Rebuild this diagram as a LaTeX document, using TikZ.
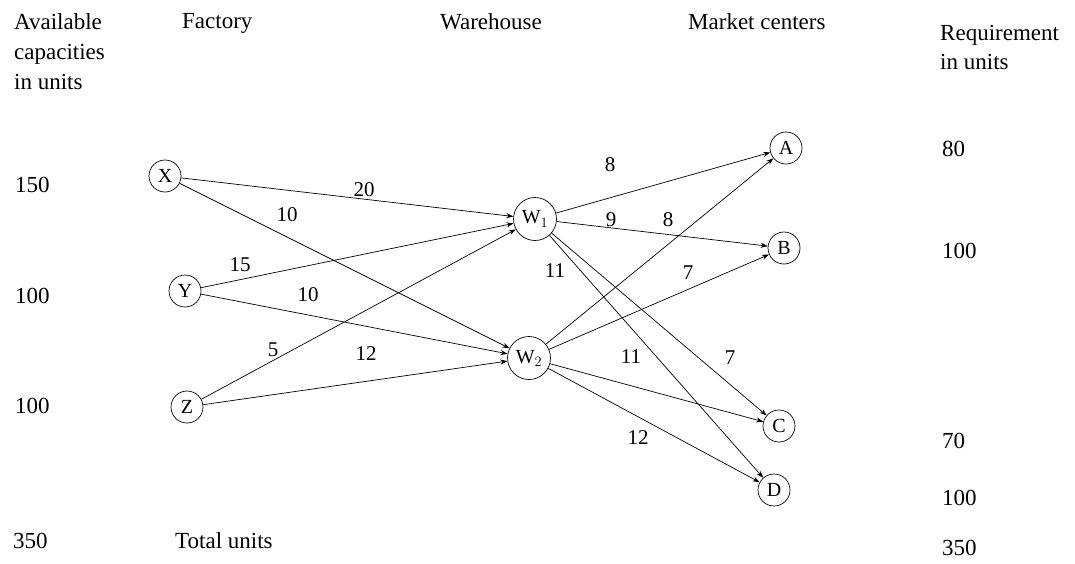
\documentclass[tikz,border=0pt]{standalone}
\usepackage{fontspec}
\setmainfont{Liberation Serif}
\usetikzlibrary{arrows.meta}
\begin{document}
\begin{tikzpicture}[x=1pt,y=-1pt,
  txt/.style={font=\fontsize{23}{30}\selectfont, inner sep=0pt},
  hdr/.style={txt, align=left, anchor=north west},
  num/.style={txt, anchor=base west},
  stn/.style={circle, draw, line width=0.7pt, minimum size=32pt, inner sep=0pt, font=\fontsize{20}{24}\selectfont},
  whs/.style={stn, minimum size=43pt},
  lbl/.style={font=\fontsize{21}{24}\selectfont, inner sep=0pt},
  link/.style={line width=0.7pt, -{Stealth[length=7pt,width=5pt]}}]
\useasboundingbox (0,0) rectangle (1075,563);

% headers
\node[hdr] (h1) at (14,13) {Available\\capacities\\in units};
\node[hdr] (h2) at (182,13) {Factory};
\node[hdr] (h3) at (440,13) {Warehouse};
\node[hdr] (h4) at (688,13) {Market centers};
\node[hdr, font=\fontsize{23}{29}\selectfont] (h5) at (940,25) {Requirement\\in units};

% capacities
\node[num] (c1) at (15,192) {150};
\node[num] (c2) at (15,303) {100};
\node[num] (c3) at (15,413) {100};
\node[num] (ct) at (13,548) {350};
\node[num] (tu) at (175,548) {Total units};

% requirements
\node[num] (r1) at (942,156) {80};
\node[num] (r2) at (942,258) {100};
\node[num] (r3) at (942,448) {70};
\node[num] (r4) at (942,505) {100};
\node[num] (rt) at (942,555) {350};

% nodes
\node[stn] (X) at (165,176) {X};
\node[stn] (Y) at (185,291) {Y};
\node[stn] (Z) at (187,407) {Z};
\node[whs] (W1) at (535,219) {W$_1$};
\node[whs] (W2) at (529,358) {W$_2$};
\node[stn] (A) at (786,148) {A};
\node[stn] (B) at (784,248) {B};
\node[stn] (C) at (779,426) {C};
\node[stn] (D) at (774,490) {D};

% connectors
\draw[link] (X) -- (W1);
\draw[link] (X) -- (W2);
\draw[link] (Y) -- (W1);
\draw[link] (Y) -- (W2);
\draw[link] (Z) -- (W1);
\draw[link] (Z) -- (W2);
\draw[link] (W1) -- (A);
\draw[link] (W1) -- (B);
\draw[link] (W1) -- (C);
\draw[link] (W1) -- (D);
\draw[link] (W2) -- (A);
\draw[link] (W2) -- (B);
\draw[link] (W2) -- (C);
\draw[link] (W2) -- (D);

% costs
\node[lbl] (l1) at (364,190) {20};
\node[lbl] (l2) at (287,215) {10};
\node[lbl] (l3) at (240,265) {15};
\node[lbl] (l4) at (308,295) {10};
\node[lbl] (l5) at (273,350) {5};
\node[lbl] (l6) at (366,354) {12};
\node[lbl] (l7) at (610,165) {8};
\node[lbl] (l8) at (611,220) {9};
\node[lbl] (l9) at (668,220) {8};
\node[lbl] (l10) at (555,271) {11};
\node[lbl] (l11) at (688,273) {7};
\node[lbl] (l12) at (631,357) {11};
\node[lbl] (l13) at (730,358) {7};
\node[lbl] (l14) at (638,438) {12};
\end{tikzpicture}
\end{document}
